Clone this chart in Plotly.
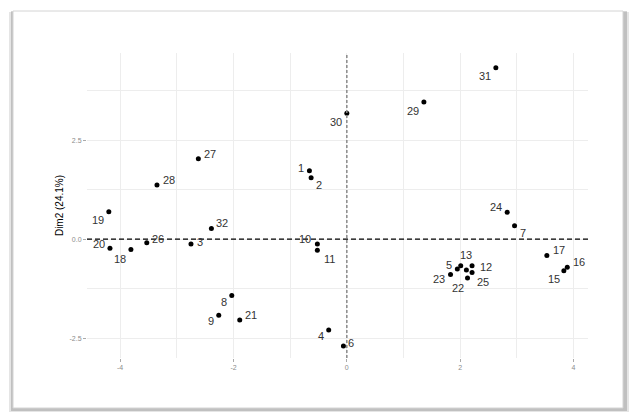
import plotly.graph_objects as go

# Individuals map: coordinates on the first two principal dimensions
ids = [str(i) for i in range(1, 33)]
dim1 = [-0.66, -0.63, -2.75, -0.32, 1.95, -0.06, 2.96, -2.03, -2.26, -0.52,
        -0.52, 2.21, 2.01, 2.11, 3.83, 3.89, 3.53, -3.81, -4.20, -4.18,
        -1.89, 2.13, 1.83, 2.83, 2.21, -3.53, -2.62, -3.35, 1.36, 0.00,
        2.63, -2.39]
dim2 = [1.73, 1.55, -0.12, -2.29, -0.75, -2.70, 0.34, -1.42, -1.92, -0.12,
        -0.28, -0.67, -0.67, -0.78, -0.80, -0.71, -0.41, -0.26, 0.69, -0.23,
        -2.04, -0.98, -0.89, 0.68, -0.84, -0.09, 2.03, 1.37, 3.46, 3.18,
        4.33, 0.27]
hidden_labels = {"14"}  # overlapping label that was dropped by the repel step

y_title = "Dim2 (24.1%)"
x_ticks = [-4, -2, 0, 2, 4]
y_ticks = [-2.5, 0.0, 2.5]
y_ticktext = ["-2.5", "0.0", "2.5"]

# Repelled label offsets in pixels (dx right, dy down)
label_offsets = {
    "1": (-8, -3), "2": (8, 7), "3": (9, -2), "4": (-8, 6), "5": (-8, -4),
    "6": (8, -3), "7": (8, 7), "8": (-8, 7), "9": (-8, 6), "10": (-12, -5),
    "11": (12, 9), "12": (14, 1), "13": (5, -11), "15": (-10, 8),
    "16": (12, -5), "17": (12, -5), "18": (-11, 10), "19": (-11, 8),
    "20": (-11, -4), "21": (11, -5), "22": (-10, 10), "23": (-12, 5),
    "24": (-11, -5), "25": (11, 10), "26": (11, -4), "27": (12, -5),
    "28": (12, -5), "29": (-11, 9), "30": (-11, 9), "31": (-11, 8),
    "32": (11, -5),
}

W, H = 630, 412
L, R, T, B = 87, 588, 53, 358
x_range = [-4.585, 4.256]
y_range = [-3.0, 4.70]


def px_x(p):
    return (p - L) / (R - L)


def px_y(p):
    return (B - p) / (B - T)


fig = go.Figure()
fig.add_trace(go.Scatter(
    x=dim1, y=dim2, mode="markers",
    marker=dict(color="black", size=5),
    hoverinfo="text", text=ids, showlegend=False,
))

annotations = []
for lab, xv, yv in zip(ids, dim1, dim2):
    if lab in hidden_labels:
        continue
    dx, dy = label_offsets[lab]
    annotations.append(dict(
        x=xv, y=yv, xref="x", yref="y", text=lab, showarrow=False,
        xshift=dx, yshift=-dy,
        font=dict(family="Liberation Sans, Arial", size=11, color="#333333"),
    ))

shapes = [
    # page frame with drop shadow
    dict(type="rect", xref="paper", yref="paper", layer="below",
         x0=px_x(9), x1=px_x(629), y0=px_y(412), y1=px_y(12),
         fillcolor="rgba(0,0,0,0.10)", line=dict(width=0)),
    dict(type="rect", xref="paper", yref="paper", layer="below",
         x0=px_x(11), x1=px_x(627), y0=px_y(411), y1=px_y(11),
         fillcolor="rgba(0,0,0,0.16)", line=dict(width=0)),
    dict(type="rect", xref="paper", yref="paper", layer="below",
         x0=px_x(13), x1=px_x(623), y0=px_y(408), y1=px_y(11),
         fillcolor="white", line=dict(color="#d4d4d4", width=1)),
    # reference lines through the origin
    dict(type="line", xref="x domain", yref="y", x0=0, x1=1, y0=0, y1=0,
         line=dict(color="black", width=1.2, dash="5px,3px")),
    dict(type="line", xref="x", yref="y domain", x0=0, x1=0, y0=0, y1=1,
         line=dict(color="#8a8a8a", width=1.5, dash="3px,2px")),
]

grid = "#EDEDED"
fig.update_layout(
    width=W, height=H,
    margin=dict(l=L, r=W - R, t=T, b=H - B),
    paper_bgcolor="white", plot_bgcolor="rgba(0,0,0,0)",
    font=dict(family="Liberation Sans, Arial"),
    annotations=annotations, shapes=shapes,
    xaxis=dict(
        range=x_range, tickvals=x_ticks, ticktext=[str(v) for v in x_ticks],
        showgrid=True, gridcolor=grid, gridwidth=1, zeroline=False,
        minor=dict(tickvals=[-3, -1, 1, 3], showgrid=True, gridcolor=grid,
                   gridwidth=1, ticks=""),
        ticks="outside", ticklen=3, tickcolor="#aaaaaa", tickwidth=1,
        tickfont=dict(size=7, color="#8c8c8c"), showline=False,
    ),
    yaxis=dict(
        range=y_range, tickvals=y_ticks, ticktext=y_ticktext,
        showgrid=True, gridcolor=grid, gridwidth=1, zeroline=False,
        minor=dict(tickvals=[-1.25, 1.25, 3.75], showgrid=True,
                   gridcolor=grid, gridwidth=1, ticks=""),
        ticks="outside", ticklen=3, tickcolor="#aaaaaa", tickwidth=1,
        tickfont=dict(size=7, color="#8c8c8c"), showline=False,
        title=dict(text=y_title, font=dict(size=10, color="black"),
                   standoff=4),
    ),
)

fig.write_html("out.html")
